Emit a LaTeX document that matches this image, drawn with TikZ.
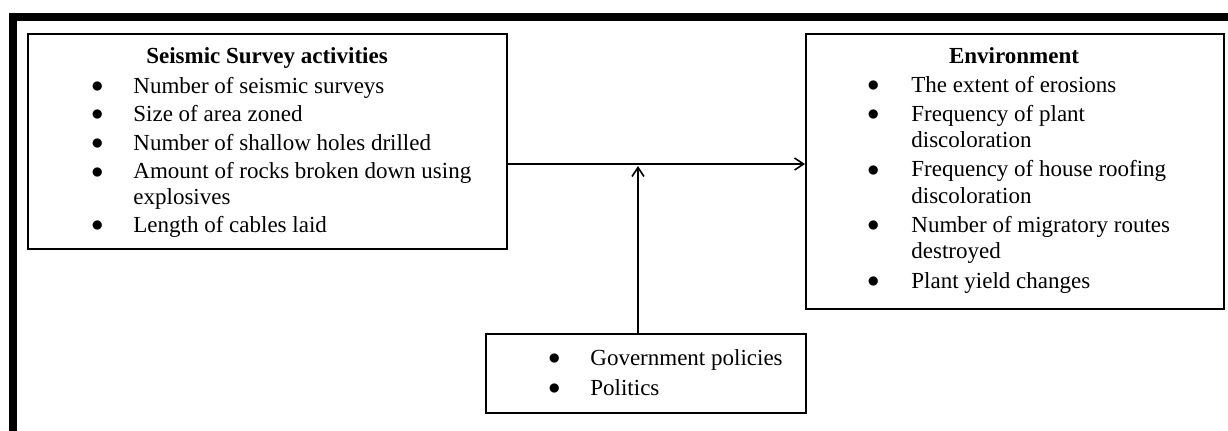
\documentclass[tikz,border=0pt]{standalone}
\usepackage{fontspec}
\setmainfont{Liberation Serif}
\usetikzlibrary{arrows.meta}

\newcommand{\itemdot}{\raisebox{0.4pt}{$\bullet$}}

\begin{document}
\begin{tikzpicture}[x=0.5pt, y=-0.5pt,
    every node/.style={inner sep=0pt, font=\fontsize{11.5}{13}\selectfont},
    box/.style={draw=black, line width=0.8pt, anchor=north west},
    heading/.style={anchor=base, font=\fontsize{11.5}{13}\selectfont\bfseries},
    items/.style={anchor=base west, align=left},
    frame/.style={line width=4pt, line join=miter},
    link/.style={line width=0.8pt, -{Straight Barb[length=4.5pt, width=6pt]}}]

  \useasboundingbox (0,0) rectangle (1228,430);
  \fill[white] (0,0) rectangle (1228,430);

  % outer frame (top and left only)
  \draw[frame] (1230,17) -- (12.8,17) -- (12.8,432);

  % boxes
  \node (survey) [box, minimum width=239.5pt, minimum height=107.5pt] at (27,33) {};
  \node (environment) [box, minimum width=209pt, minimum height=137.5pt] at (805,33) {};
  \node (policies) [box, minimum width=160pt, minimum height=39.5pt] at (485,333) {};

  \node (survey_title) [heading] at (267,63) {Seismic Survey activities};
  \node (environment_title) [heading] at (1014,63) {Environment};

  \node (survey_items) [items, font=\fontsize{11.5}{12.6}\selectfont] at (91,93) {%
    \begin{tabular}[t]{@{}p{21pt}@{}l@{}}
      \itemdot & Number of seismic surveys\\[1.7pt]
      \itemdot & Size of area zoned\\[1.7pt]
      \itemdot & Number of shallow holes drilled\\[1.7pt]
      \itemdot & Amount of rocks broken down using\\
               & explosives\\[1.7pt]
      \itemdot & Length of cables laid
    \end{tabular}};

  \node (environment_items) [items, font=\fontsize{11.5}{13.2}\selectfont] at (867,92) {%
    \begin{tabular}[t]{@{}p{22pt}@{}l@{}}
      \itemdot & The extent of erosions\\[1.4pt]
      \itemdot & Frequency of plant\\
               & discoloration\\[1.4pt]
      \itemdot & Frequency of house roofing\\
               & discoloration\\[1.4pt]
      \itemdot & Number of migratory routes\\
               & destroyed\\[1.4pt]
      \itemdot & Plant yield changes
    \end{tabular}};

  \node (policies_items) [items] at (548,365) {%
    \begin{tabular}[t]{@{}p{21pt}@{}l@{}}
      \itemdot & Government policies\\[2pt]
      \itemdot & Politics
    \end{tabular}};

  % connectors
  \coordinate (joint) at (638,164);
  \draw[link] (survey.east |- joint) -- (environment.west |- joint);
  \draw[link, shorten >=1pt] (policies.north -| joint) -- (joint);
\end{tikzpicture}
\end{document}
